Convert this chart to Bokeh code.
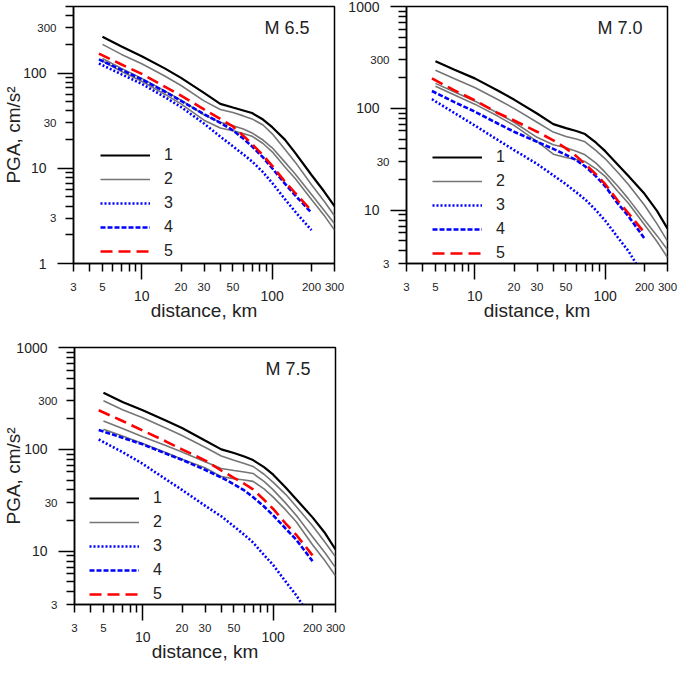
from bokeh.plotting import figure
from bokeh.models import (Range1d, FixedTicker, LogAxis, Legend, LegendItem, Label)
from bokeh.layouts import column, row
from bokeh.embed import file_html
from bokeh.resources import INLINE

FONT = "Liberation Sans"
TXT = "#222222"

# ---------------- axis ticks ----------------
x_decades = [10, 100]
x_inter = [3, 4, 5, 6, 7, 8, 9, 20, 30, 40, 50, 60, 70, 80, 90, 200, 300]
x_inter_labels = [3, 5, 20, 30, 50, 200, 300]

y1_decades = [1, 10, 100]
y1_inter = [2, 3, 4, 5, 6, 7, 8, 9, 20, 30, 40, 50, 60, 70, 80, 90, 200, 300, 400, 500]
y2_decades = [10, 100, 1000]
y2_inter = [3, 4, 5, 6, 7, 8, 9, 20, 30, 40, 50, 60, 70, 80, 90,
            200, 300, 400, 500, 600, 700, 800, 900]
y_inter_labels = [3, 30, 300]

# ---------------- data ----------------
dist_long = [5, 7, 10, 15, 20, 30, 40, 50, 60, 70, 85, 100, 125, 150, 200, 250, 300]

# M 6.5
m65_dist_short = [4.7, 7, 10, 15, 20, 30, 40, 50, 60, 70, 85, 100, 125, 150, 200]
m65_c1 = [240, 190, 150, 112, 89, 62, 47.5, 43.5, 40.5, 38, 32.5, 27, 20, 14.5, 8.5, 5.7, 4.0]
m65_c2a = [200, 157, 125, 93, 74, 51, 41.5, 38.5, 35.5, 33, 28.5, 23, 15.8, 11.6, 6.7, 4.5, 3.18]
m65_c2b = [142, 112, 88, 65, 52, 36.5, 30.5, 28, 25.8, 23.5, 19.8, 16.4, 11.6, 8.7, 5.3, 3.6, 2.62]
m65_c2c = [134, 104, 82, 60, 47.5, 32, 26.5, 24.8, 23.2, 21.7, 18.2, 14.9, 10.3, 7.8, 4.7, 3.2, 2.24]
m65_c3 = [126, 97, 77, 56, 44, 29.5, 21.5, 17, 14, 11.8, 9.1, 7.0, 4.75, 3.5, 2.24]
m65_c4 = [139, 108, 86, 64, 51, 37, 30, 25, 20.5, 17, 13, 10, 6.9, 5.2, 3.4]
m65_c5 = [160, 123, 98, 72, 58, 41.5, 33, 27.5, 22, 18, 13.7, 10.6, 7.25, 5.5, 3.58]

# M 7.0
m70_dist_short = [4.7, 7, 10, 15, 20, 30, 40, 50, 60, 70, 85, 100, 125, 150, 200]
m70_c1 = [290, 240, 197, 150, 122, 89, 70, 64, 60, 56, 46, 38, 28, 21.8, 14.5, 9.8, 6.6]
m70_c2a = [237, 195, 160, 122, 100, 73, 58.5, 53, 50, 47, 38.5, 32, 23.5, 18, 11.2, 7.3, 4.97]
m70_c2b = [176, 145, 118, 90, 73, 52, 44, 41, 38, 35, 29, 23.5, 17.2, 13, 8.0, 5.6, 4.1]
m70_c2c = [165, 135, 110, 84, 68, 47.5, 35.5, 33, 31.5, 30, 25.5, 21.5, 15.3, 11.8, 7.2, 4.9, 3.44]
m70_c3 = [123, 90, 68, 49, 39, 28.5, 22, 18, 15, 12.8, 10, 7.9, 5.4, 4.0, 2.2]
m70_c4 = [148, 115, 93, 71, 59, 47, 40, 35, 31, 27, 21.5, 17.2, 11.6, 8.8, 5.27]
m70_c5 = [197, 150, 120, 90, 76, 59, 48.6, 40.5, 34, 28.5, 22.5, 18, 12.4, 9.4, 6.0]

# M 7.5
m75_dist_short = [4.6, 7, 10, 15, 20, 30, 40, 50, 60, 70, 85, 100, 125, 150, 200]
m75_c1 = [360, 292, 242, 192, 162, 122, 100, 92, 85, 78.5, 67, 56.4, 42, 32.4, 21.5, 15, 10.4]
m75_c2a = [300, 245, 204, 162, 137, 105, 86, 78, 72.5, 68, 57, 47.5, 36, 27.5, 17.8, 12.2, 8.8]
m75_c2b = [190, 160, 133, 109, 94, 75.5, 65, 62, 60, 58, 48.5, 40, 29.5, 22.5, 13.9, 9.6, 6.9]
m75_c2c = [158, 135, 114, 93, 80, 66, 54, 51.5, 50, 48.5, 41, 34, 25.3, 19.5, 11.6, 8.0, 5.75]
m75_c3 = [125, 94, 72, 51, 40, 28, 22, 17.5, 14.5, 12.2, 9.2, 7.3, 5.0, 3.7, 2.1]
m75_c4 = [155, 130, 112, 91, 79, 63, 53, 45.5, 39.5, 34, 27.5, 22.5, 16.6, 13, 8.0]
m75_c5 = [242, 190, 153, 120, 100, 78, 62, 52.5, 46, 40.5, 32, 26, 18.6, 14.5, 9.1]

legend_labels = ["1", "2", "3", "4", "5"]

FW, FH = 261, 257


def common(ax):
    ax.axis_line_width = 1.5
    ax.major_tick_line_width = 1.5
    ax.minor_tick_line_width = 1.5
    ax.major_label_text_font = FONT
    ax.major_label_text_color = TXT
    ax.axis_label_text_font = FONT
    ax.axis_label_text_font_size = "19px"
    ax.axis_label_text_font_style = "normal"
    ax.axis_label_text_color = TXT


def inner_axis(ax, decades):
    # long decade ticks, no labels
    common(ax)
    ax.ticker = FixedTicker(ticks=decades)
    ax.major_tick_out = 16
    ax.major_tick_in = 0
    ax.minor_tick_out = 0
    ax.minor_tick_in = 0
    ax.major_label_standoff = 0
    ax.major_label_text_font_size = "0px"
    ax.major_label_overrides = {t: "" for t in decades}


def mid_axis(inter, labelled, standoff):
    # short ticks reaching back to the frame, small labels
    ax = LogAxis(ticker=FixedTicker(ticks=inter))
    common(ax)
    ax.axis_line_color = None
    ax.major_tick_in = 16
    ax.major_tick_out = -8
    ax.minor_tick_out = 0
    ax.minor_tick_in = 0
    ax.major_label_standoff = standoff
    ax.major_label_text_font_size = "11.5px"
    ax.major_label_overrides = {t: (str(t) if t in labelled else "") for t in inter}
    return ax


def outer_axis(decades, standoff):
    # decade labels (large), no tick marks
    ax = LogAxis(ticker=FixedTicker(ticks=decades))
    common(ax)
    ax.axis_line_color = None
    ax.major_tick_line_color = None
    ax.major_tick_in = 0
    ax.major_tick_out = 0
    ax.minor_tick_out = 0
    ax.minor_tick_in = 0
    ax.major_label_standoff = standoff
    ax.major_label_text_font_size = "14px"
    ax.major_label_overrides = {t: str(t) for t in decades}
    return ax


def make_panel(title, ylo, yhi, y_dec, y_int, dshort, c1, c2a, c2b, c2c, c3, c4, c5,
               ylabel_standoff, leg_loc, left, right, bottom):
    p = figure(x_axis_type="log", y_axis_type="log",
               x_range=Range1d(3, 300), y_range=Range1d(ylo, yhi),
               frame_width=FW, frame_height=FH,
               output_backend="svg", toolbar_location=None,
               min_border_left=left, min_border_right=right,
               min_border_top=6, min_border_bottom=bottom)
    p.grid.visible = False
    p.outline_line_color = "black"
    p.outline_line_width = 1.5
    p.background_fill_color = "white"
    p.border_fill_color = "white"

    inner_axis(p.xaxis[0], x_decades)
    inner_axis(p.yaxis[0], y_dec)
    p.add_layout(mid_axis(x_inter, x_inter_labels, 3), "below")
    xb = outer_axis(x_decades, -3)
    xb.axis_label = "distance, km"
    xb.axis_label_standoff = -4
    p.add_layout(xb, "below")
    p.add_layout(mid_axis(y_int, y_inter_labels, 1), "left")
    yb = outer_axis(y_dec, -12)
    if ylabel_standoff is not None:
        yb.axis_label = "PGA, cm/s\u00b2"
        yb.axis_label_standoff = ylabel_standoff
    p.add_layout(yb, "left")

    g = []
    for ys in (c2a, c2b, c2c):
        g.append(p.line(dist_long, ys, line_color="#757575", line_width=1.6))
    r1 = p.line(dist_long, c1, line_color="black", line_width=2.2)
    r3 = p.line(dshort, c3, line_color="#0000ff", line_width=2.6, line_dash="2 2")
    r4 = p.line(dshort, c4, line_color="#0000ff", line_width=2.6, line_dash="5 2")
    r5 = p.line(dshort, c5, line_color="#ff0000", line_width=2.6, line_dash="12 6")

    leg = Legend(items=[LegendItem(label=legend_labels[0], renderers=[r1]),
                        LegendItem(label=legend_labels[1], renderers=[g[0]]),
                        LegendItem(label=legend_labels[2], renderers=[r3]),
                        LegendItem(label=legend_labels[3], renderers=[r4]),
                        LegendItem(label=legend_labels[4], renderers=[r5])],
                 location=leg_loc, padding=0, margin=0, spacing=6,
                 glyph_width=50, glyph_height=16, label_height=16,
                 label_standoff=14, label_text_font=FONT,
                 label_text_font_size="16px", label_text_color=TXT,
                 background_fill_alpha=0, border_line_alpha=0)
    p.add_layout(leg, "center")

    p.add_layout(Label(x=FW - 25, y=FH - 11, x_units="screen", y_units="screen",
                       text=title, text_align="right", text_baseline="top",
                       text_font=FONT, text_font_size="18px", text_color=TXT))
    return p


p1 = make_panel("M 6.5", 1, 500, y1_decades, y1_inter, m65_dist_short,
                m65_c1, m65_c2a, m65_c2b, m65_c2c, m65_c3, m65_c4, m65_c5,
                -4, (27, 3), 67, 11, 78)
p2 = make_panel("M 7.0", 3, 1000, y2_decades, y2_inter, m70_dist_short,
                m70_c1, m70_c2a, m70_c2b, m70_c2c, m70_c3, m70_c4, m70_c5,
                None, (26, 1), 56, 10, 78)
p3 = make_panel("M 7.5", 3, 1000, y2_decades, y2_inter, m75_dist_short,
                m75_c1, m75_c2a, m75_c2b, m75_c2c, m75_c3, m75_c4, m75_c5,
                -11, (15, 1), 67, 11, 10)

layout = column(row(p1, p2), p3)
open("out.html", "w").write(file_html(layout, INLINE))
